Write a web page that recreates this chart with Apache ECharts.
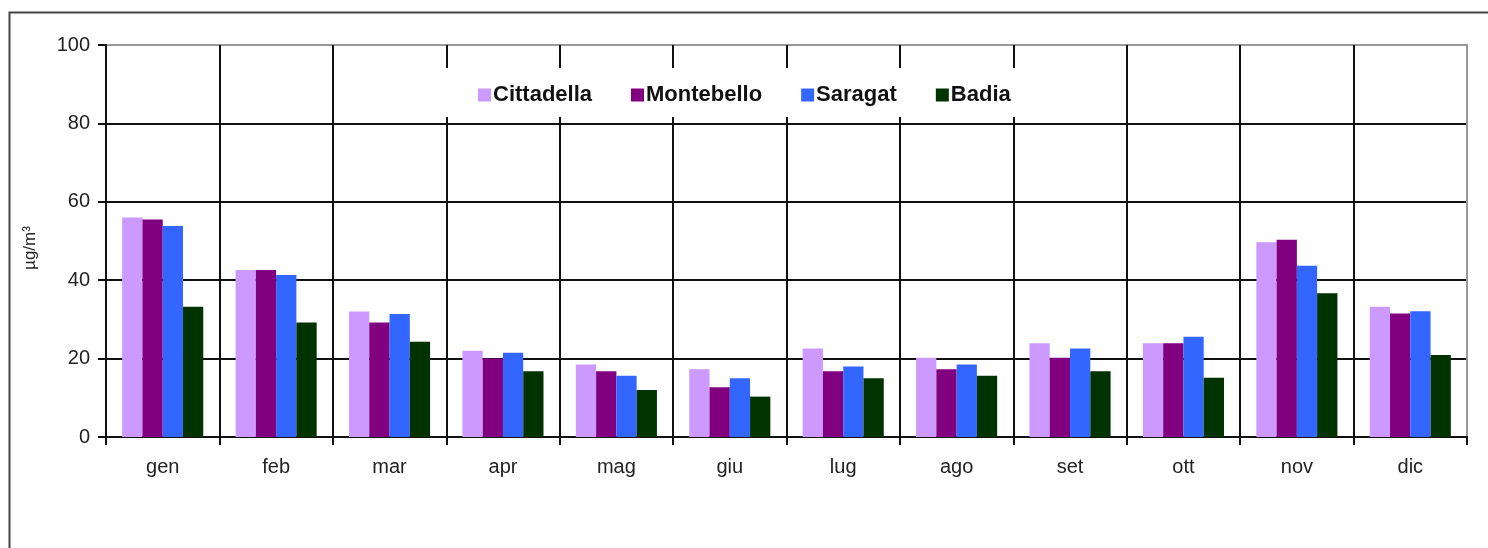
<!DOCTYPE html>
<html>
<head>
<meta charset="utf-8">
<script src="https://cdn.jsdelivr.net/npm/echarts@6/dist/echarts.min.js"></script>
<style>
html,body{margin:0;padding:0;background:#fff;}
#chart{width:1488px;height:548px;}
</style>
</head>
<body>
<div id="chart"></div>
<script>
const months = ['gen','feb','mar','apr','mag','giu','lug','ago','set','ott','nov','dic'];
const cittadella = [56.0, 42.6, 32.0, 22.0, 18.5, 17.3, 22.6, 20.2, 23.9, 23.9, 49.7, 33.2];
const montebello = [55.5, 42.6, 29.2, 20.0, 16.8, 12.7, 16.8, 17.3, 20.2, 23.9, 50.3, 31.5];
const saragat    = [53.8, 41.3, 31.4, 21.5, 15.6, 15.0, 18.0, 18.5, 22.6, 25.6, 43.7, 32.1];
const badia      = [33.2, 29.2, 24.3, 16.8, 12.0, 10.3, 15.0, 15.6, 16.8, 15.1, 36.7, 20.9];
const yTicks = [0, 20, 40, 60, 80, 100];
const yTitle = 'µg/m³';

const chart = echarts.init(document.getElementById('chart'), null, {renderer:'canvas'});
const seriesDefs = [
  {name:'Cittadella', data:cittadella, color:'#cc99ff'},
  {name:'Montebello', data:montebello, color:'#800080'},
  {name:'Saragat', data:saragat, color:'#3366ff'},
  {name:'Badia', data:badia, color:'#003300'}
];
const xSplitColors = months.map(()=> '#111');
xSplitColors.push('#999');
chart.setOption({
  backgroundColor:'#fff',
  animation:false,
  graphic:[{
    type:'rect', left:7, top:10, z:-1, silent:true,
    shape:{x:0,y:0,width:1500,height:560},
    style:{fill:'none', stroke:'#444', lineWidth:2}
  },{
    type:'text', x:30, y:248, rotation:Math.PI/2, silent:true,
    style:{text:yTitle, fontFamily:'Liberation Sans, Arial, sans-serif', fontSize:17, fill:'#222', align:'center', verticalAlign:'middle'}
  }],
  grid:{left:106, right:21, top:45, bottom:111, show:true, borderColor:'#999', borderWidth:2, backgroundColor:'transparent'},
  legend:{
    left:442, top:68,
    padding:[16,32,11,36],
    backgroundColor:'#fff',
    itemWidth:13, itemHeight:13, itemGap:39,
    icon:'rect',
    textStyle:{fontFamily:'Liberation Sans, Arial, sans-serif', fontWeight:'bold', fontSize:22, color:'#111', padding:[0,0,0,-3]},
    data: seriesDefs.map(s=>s.name)
  },
  xAxis:{
    type:'category', data:months,
    axisLine:{lineStyle:{color:'#111', width:2}},
    axisTick:{show:true, length:8, lineStyle:{color:'#111', width:2}},
    axisLabel:{margin:20, fontFamily:'Liberation Sans, Arial, sans-serif', fontSize:20, color:'#222'},
    splitLine:{show:true, lineStyle:{color:xSplitColors, width:2}}
  },
  yAxis:{
    type:'value', min:yTicks[0], max:yTicks[yTicks.length-1], interval:20,
    axisLine:{show:true, lineStyle:{color:'#111', width:2}},
    axisTick:{show:true, length:8, lineStyle:{color:'#111', width:2}},
    axisLabel:{margin:16, fontFamily:'Liberation Sans, Arial, sans-serif', fontSize:20, color:'#222'},
    splitLine:{show:true, lineStyle:{color:['#111','#111','#111','#111','#111','#999'], width:2}}
  },
  series: seriesDefs.map(s=>({
    name:s.name, type:'bar', data:s.data,
    barGap:'0%', barCategoryGap:'28.5%',
    itemStyle:{color:s.color},
    emphasis:{disabled:true}
  }))
});
</script>
</body>
</html>
